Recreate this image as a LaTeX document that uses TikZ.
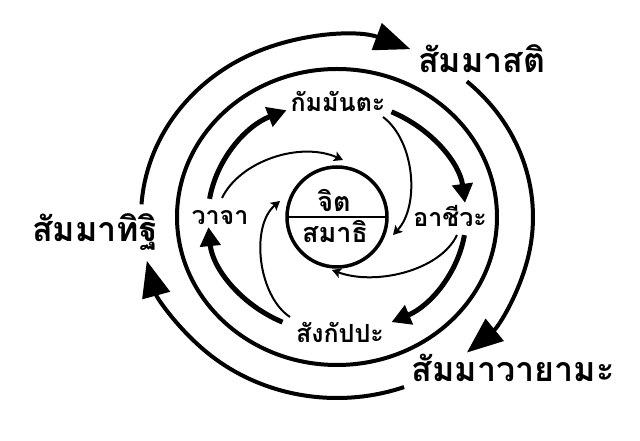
\documentclass[tikz,border=0pt]{standalone}
\usepackage{fontspec}
\newfontfamily\thaifont[Script=Thai]{Loma}
\usetikzlibrary{arrows.meta,calc}

\begin{document}
\begin{tikzpicture}[x=1pt,y=1pt,
    outerarc/.style={line width=4pt,-{Triangle[length=36pt,width=28pt]}},
    innerarc/.style={line width=5pt,-{Triangle[length=19pt,width=20pt]}},
    thinarc/.style={line width=2pt,-{Stealth[length=9pt,width=10pt,inset=2pt]}},
    biglabel/.style={font=\thaifont\bfseries\fontsize{34}{38}\selectfont,anchor=base},
    midlabel/.style={font=\thaifont\bfseries\fontsize{25}{28}\selectfont,anchor=base},
    corelabel/.style={font=\thaifont\bfseries\fontsize{27}{30}\selectfont,anchor=base}]

    % Fix the page to the size of the picture
    \useasboundingbox (0,0) rectangle (640,441);

    % Define the center of all the rings
    \coordinate (C) at (337,224);

    % Draw the inner circle with its dividing line
    \draw[line width=3.5pt] (C) circle (50pt);
    \draw[line width=2pt] ($(C)+(-50,0)$) coordinate (L) -- ($(C)+(50,0)$) coordinate (R);

    % Draw the closed middle ring
    \draw[line width=4pt] (C) ellipse [x radius=160pt, y radius=148pt];

    % Add the labels of the outer ring
    \node[biglabel] (ditthi) at (95,199) {สัมมาทิฐิ};
    \node[biglabel] (sati) at (482,368) {สัมมาสติ};
    \node[biglabel] (vayama) at (513,59) {สัมมาวายามะ};

    % Add the labels of the inner ring
    \node[midlabel] (kammanta) at (338,329) {กัมมันตะ};
    \node[midlabel] (ajiva) at (450,214) {อาชีวะ};
    \node[midlabel] (vaca) at (220,216) {วาจา};
    \node[midlabel] (sankappa) at (340,98) {สังกัปปะ};

    % Add the labels in the inner circle
    \node[corelabel] (citta) at (334,229) {จิต};
    \node[corelabel] (samadhi) at (335,198) {สมาธิ};

    % Define the start points of the outer arcs
    \coordinate (O1) at ($(C)+(176:196pt and 181pt)$);
    \coordinate (O2) at ($(C)+(48.5:196pt and 181pt)$);
    \coordinate (O3) at ($(C)+(-70:196pt and 181pt)$);

    % Draw the outer arcs
    \draw[outerarc] (O1) arc[start angle=176, end angle=68, x radius=196pt, y radius=181pt];
    \draw[outerarc] (O2) arc[start angle=48.5, end angle=-48.5, x radius=196pt, y radius=181pt];
    \draw[outerarc] (O3) arc[start angle=-70, end angle=-166, x radius=196pt, y radius=181pt];

    % Define the start points of the inner thick arcs
    \coordinate (I1) at ($(C)+(171:129pt and 116pt)$);
    \coordinate (I2) at ($(C)+(65:129pt and 116pt)$);
    \coordinate (I3) at ($(C)+(-9:129pt and 116pt)$);
    \coordinate (I4) at ($(C)+(245:129pt and 116pt)$);

    % Draw the inner thick arcs
    \draw[innerarc] (I1) arc[start angle=171, end angle=113, x radius=129pt, y radius=116pt];
    \draw[innerarc] (I2) arc[start angle=65, end angle=7, x radius=129pt, y radius=116pt];
    \draw[innerarc] (I3) arc[start angle=-9, end angle=-65, x radius=129pt, y radius=116pt];
    \draw[innerarc] (I4) arc[start angle=245, end angle=185, x radius=129pt, y radius=116pt];

    % Define the ends of the thin arcs that run into the circle
    \coordinate (Ta) at (222,243);
    \coordinate (Ha) at (343,281);
    \coordinate (Tb) at (383,324);
    \coordinate (Hb) at (393,206);
    \coordinate (Tc) at (457,206);
    \coordinate (Hc) at (332,171);
    \coordinate (Td) at (290,124);
    \coordinate (Hd) at (280,240);

    % Draw the thin arcs
    \draw[thinarc] (Ta) .. controls (240,280) and (300,300) .. (Ha);
    \draw[thinarc] (Tb) .. controls (415,300) and (420,235) .. (Hb);
    \draw[thinarc] (Tc) .. controls (440,170) and (375,155) .. (Hc);
    \draw[thinarc] (Td) .. controls (258,145) and (250,215) .. (Hd);

\end{tikzpicture}
\end{document}
